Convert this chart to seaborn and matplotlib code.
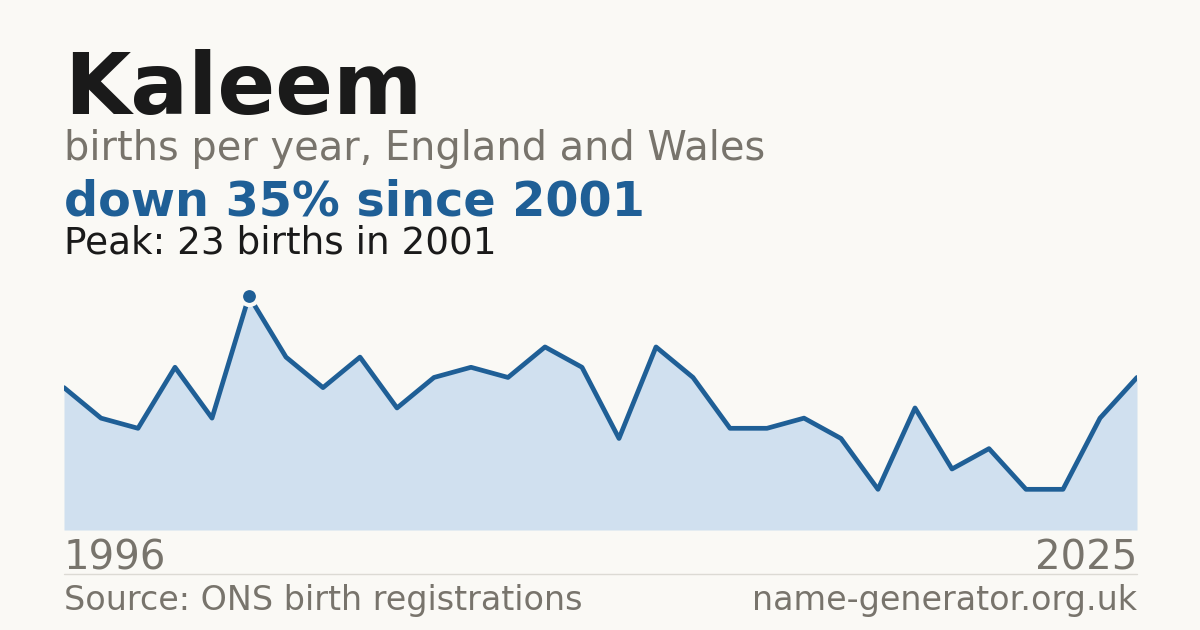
import numpy as np
import pandas as pd
import matplotlib
matplotlib.use("Agg")
import matplotlib.pyplot as plt
import seaborn as sns

# data
years = list(range(1996, 2026))
births = [14, 11, 10, 16, 11, 23, 17, 14, 17, 12, 15, 16, 15, 18, 16,
          9, 18, 15, 10, 10, 11, 9, 4, 12, 6, 8, 4, 4, 11, 15]

name = "Kaleem"
subtitle = "births per year, England and Wales"
headline = "down 35% since 2001"
peak_text = "Peak: 23 births in 2001"
source = "Source: ONS birth registrations"
site = "name-generator.org.uk"

BG = "#faf9f5"
BLUE = "#1f5f96"
FILL = "#d0e0ef"
GREY = "#78746c"
DARK = "#1a1a1a"

W, H = 1200, 630
sns.set_theme(style="white")
plt.rcParams["font.family"] = ["DejaVu Sans"]

df = pd.DataFrame({"year": years, "births": births})

fig = plt.figure(figsize=(W / 100, H / 100), dpi=100, facecolor=BG)

# plot area: x 64..1137 px, baseline at y=530 px
ymax = 24
top_px = 530 - ymax * 10.17
ax = fig.add_axes([64 / W, (H - 530) / H, (1137 - 64) / W, (530 - top_px) / H])
ax.set_facecolor(BG)
ax.patch.set_alpha(0)

ax.fill_between(df["year"], df["births"], 0, color=FILL, linewidth=0, zorder=1)
sns.lineplot(data=df, x="year", y="births", ax=ax, color=BLUE, linewidth=3.4,
             zorder=2)

# highlight the peak year
peak_i = int(np.argmax(births))
ax.scatter([years[peak_i]], [births[peak_i]], s=150, color=BLUE,
           edgecolor=BG, linewidth=3, zorder=3, clip_on=False)

ax.set_xlim(years[0], years[-1])
ax.set_ylim(0, ymax)
ax.axis("off")

def px(x, y):
    return x / W, 1 - y / H

fig.text(*px(64, 114), name, fontsize=61.6, fontweight="bold", color=DARK, va="baseline")
fig.text(*px(64, 160), subtitle, fontsize=28.7, color=GREY, va="baseline")
fig.text(*px(64, 215), headline, fontsize=34.4, fontweight="bold", color=BLUE, va="baseline")
fig.text(*px(64, 253), peak_text, fontsize=26.9, color=DARK, va="baseline")

fig.text(*px(64, 570), str(years[0]), fontsize=29, color=GREY, va="baseline")
fig.text(*px(1137, 570), str(years[-1]), fontsize=29, color=GREY, va="baseline", ha="right")

fig.add_artist(plt.Line2D([64 / W, 1137 / W], [1 - 574 / H, 1 - 574 / H],
                          color="#dcdad4", linewidth=1))

fig.text(*px(64, 610), source, fontsize=24, color=GREY, va="baseline")
fig.text(*px(1137, 610), site, fontsize=24, color=GREY, va="baseline", ha="right")

fig.savefig("out.png", dpi=100, facecolor=BG)
